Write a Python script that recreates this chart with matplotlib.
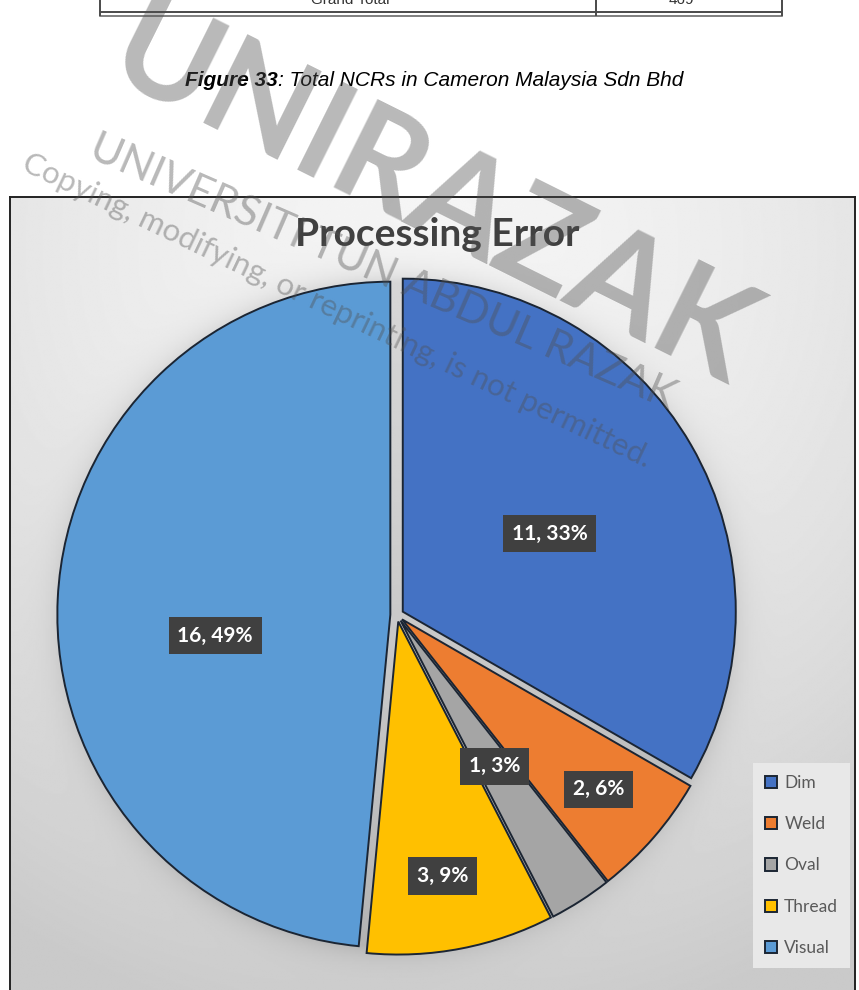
import numpy as np
import matplotlib.pyplot as plt

# slices of the processing error chart
categories = ['Dim', 'Weld', 'Oval', 'Thread', 'Visual']
counts = [11, 2, 1, 3, 16]
colors = ['#4472C4', '#ED7D31', '#A5A5A5', '#FFC000', '#5B9BD5']

# last row of the table above the caption
table_row = ['Grand Total', '469']

W, H = 859, 990
fig = plt.figure(figsize=(W / 100, H / 100), dpi=100)
fig.patch.set_facecolor('white')

# page layer in pixel coordinates (table + caption)
page = fig.add_axes([0, 0, 1, 1], zorder=-1)
page.set_xlim(0, W)
page.set_ylim(H, 0)
page.axis('off')

tl = dict(color='#4a4a4a', lw=1.4, solid_capstyle='butt')
page.plot([100, 782], [12, 12], **tl)
page.plot([100, 782], [16, 16], color='#6a6a6a', lw=1.2)
for x in (100, 596, 782):
    page.plot([x, x], [0, 16], **tl)
page.text(350, 0, table_row[0], ha='center', va='center', fontsize=11,
          family='Liberation Sans', color='#333333')
page.text(681, 0, table_row[1], ha='center', va='center', fontsize=11,
          family='Liberation Sans', color='#333333')

cap1 = page.text(185, 80, 'Figure 33', ha='left', va='center', fontsize=15,
                 family='Liberation Sans', style='italic', fontweight='bold')
fig.canvas.draw()
bb = cap1.get_window_extent()
page.text(bb.x1, 80, ': Total NCRs in Cameron Malaysia Sdn Bhd', ha='left',
          va='center', fontsize=15, family='Liberation Sans', style='italic')

# chart area: pie centre and radius in pixels
cx, cy, rad = 397, 615, 333
left, right, top = 10, 855, 197
ax = fig.add_axes([left / W, 0, (right - left) / W, (H - top) / H])
xlim = ((left - cx) / rad, (right - cx) / rad)
ylim = ((cy - H) / rad, (cy - top) / rad)

# grey gradient fill with a soft halo round the pie
xs = np.linspace(xlim[0], xlim[1], 500)
ys = np.linspace(ylim[0], ylim[1], 500)
X, Y = np.meshgrid(xs, ys)
d = np.hypot(X - 0.1, Y - 1.1)
bg = 0.96 - 0.17 * np.clip(d / 2.4, 0, 1) ** 1.6
rr = np.hypot(X, Y)
bg = bg - 0.12 * np.exp(-np.clip(rr - 1, 0, None) / 0.04)
ax.imshow(bg, extent=[xlim[0], xlim[1], ylim[0], ylim[1]], origin='lower',
          cmap='gray', vmin=0, vmax=1, aspect='auto', zorder=0,
          interpolation='bilinear')

wedges, _ = ax.pie(counts, colors=colors, startangle=90, counterclock=False,
                   explode=[0.02] * len(counts), radius=1, frame=True,
                   wedgeprops=dict(edgecolor='#1b2533', linewidth=1.4))
ax.set_aspect('auto')
ax.set_xlim(xlim)
ax.set_ylim(ylim)
ax.set_xticks([])
ax.set_yticks([])
for s in ('left', 'right', 'top'):
    ax.spines[s].set_color('#222222')
    ax.spines[s].set_linewidth(1.4)
ax.spines['bottom'].set_visible(False)

# percentages rounded so that they add up to 100
total = sum(counts)
raw = [c * 100 / total for c in counts]
pcts = [int(np.floor(v)) for v in raw]
order = np.argsort([-(v - p) for v, p in zip(raw, pcts)])
for i in order[:100 - sum(pcts)]:
    pcts[i] += 1

# label placement: distance from centre and turn off the mid angle
label_dist = [0.5, 0.78, 0.52, 0.775, 0.53]
label_turn = [-2, 0, 0, -1, 9.5]
for w, c, p, ld, lt in zip(wedges, counts, pcts, label_dist, label_turn):
    mid = np.deg2rad((w.theta1 + w.theta2) / 2 + lt)
    x0, y0 = w.center
    ax.text(x0 + ld * np.cos(mid), y0 + ld * np.sin(mid), f'{c}, {p}%',
            ha='center', va='center', color='white', fontsize=15,
            family='Lato', fontweight='bold', zorder=5,
            bbox=dict(boxstyle='square,pad=0.42', fc='#404040', ec='none'))

fig.text(437 / W, 1 - 246 / H, 'Processing Error', ha='center',
         va='baseline', fontsize=28, family='Lato', fontweight='bold',
         color='#404040')

leg = fig.legend(wedges, categories, loc='upper left',
                 bbox_to_anchor=(753 / W, 1 - 763 / H), borderaxespad=0,
                 prop=dict(family='Lato', size=12.5), labelspacing=1.45,
                 handlelength=0.7, handleheight=0.7, handletextpad=0.4,
                 borderpad=0.7, fancybox=False, framealpha=1)
leg.get_frame().set_facecolor('#e8e8e8')
leg.get_frame().set_edgecolor('none')
for t in leg.get_texts():
    t.set_color('#595959')

# watermark over the whole page
wm = dict(ha='center', va='center', rotation_mode='anchor', color='#505050',
          alpha=0.4, zorder=10, family='Lato')
fig.text(432 / W, 1 - 198 / H, 'UNIRAZAK', rotation=-26.5, fontsize=98,
         fontweight='bold', **wm)
fig.text(383 / W, 1 - 272 / H, 'UNIVERSITI TUN ABDUL RAZAK', rotation=-23.5,
         fontsize=31, **wm)
fig.text(337 / W, 1 - 311 / H,
         'Copying, modifying, or reprinting, is not permitted.', rotation=-25.5,
         fontsize=22.5, **wm)

fig.savefig('out.png', dpi=100)
